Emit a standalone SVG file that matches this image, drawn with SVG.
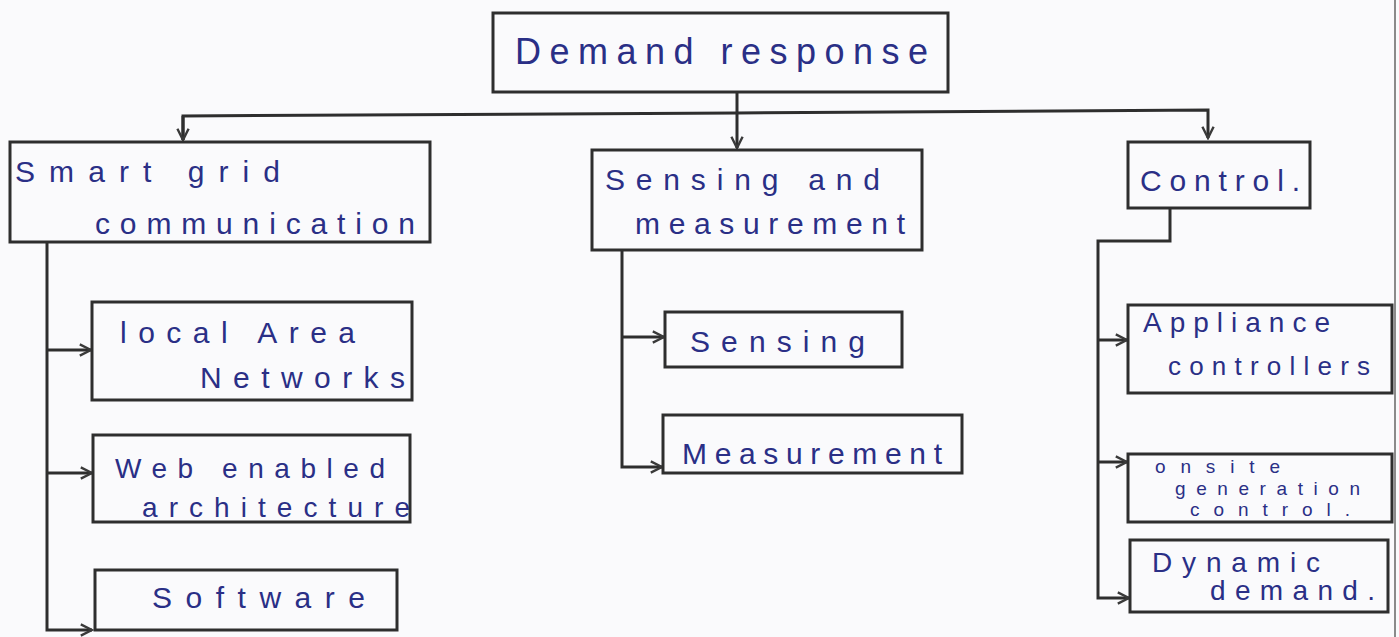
<svg xmlns="http://www.w3.org/2000/svg" width="1399" height="637" viewBox="0 0 1399 637">
<defs>
<style>
.box{fill:none;stroke:#2e2e2e;stroke-width:3}
.ln{fill:none;stroke:#2e2e2e;stroke-width:3}
.t{font-family:"Liberation Sans",Arial,sans-serif;fill:#2a2f86;font-weight:normal}
.edge{stroke:#8a8a8a;stroke-width:2}
</style>
<marker id="arr" viewBox="0 0 20 20" refX="18" refY="10" markerWidth="16" markerHeight="16" markerUnits="userSpaceOnUse" orient="auto">
<path d="M4,3 L18,10 L4,17" fill="none" stroke="#3a3a3a" stroke-width="3"/>
</marker>
</defs>
<rect width="1399" height="637" fill="#fafafc"/>
<line class="edge" x1="1395" y1="0" x2="1395" y2="637"/>

<g id="connectors">
<line class="ln" x1="737" y1="92" x2="737" y2="148" marker-end="url(#arr)"/>
<polyline class="ln" points="183,140 183,116 737,113 1208,110 1208,138" marker-end="url(#arr)"/>
<line class="ln" x1="183" y1="116" x2="183" y2="140" marker-end="url(#arr)"/>
<polyline class="ln" points="47,242 47,630 92,630" marker-end="url(#arr)"/>
<line class="ln" x1="47" y1="350" x2="91" y2="350" marker-end="url(#arr)"/>
<line class="ln" x1="47" y1="473" x2="92" y2="473" marker-end="url(#arr)"/>
<polyline class="ln" points="622,250 622,467 662,467" marker-end="url(#arr)"/>
<line class="ln" x1="622" y1="337" x2="664" y2="337" marker-end="url(#arr)"/>
<polyline class="ln" points="1170,208 1170,241 1098,241 1098,598 1129,598" marker-end="url(#arr)"/>
<line class="ln" x1="1098" y1="340" x2="1127" y2="340" marker-end="url(#arr)"/>
<line class="ln" x1="1098" y1="462" x2="1127" y2="462" marker-end="url(#arr)"/>
</g>

<g id="demand-response">
<rect class="box" x="493" y="13" width="455" height="79"/>
<text class="t" x="515" y="64" font-size="36" textLength="413" lengthAdjust="spacing">Demand response</text>
</g>

<g id="smart-grid">
<rect class="box" x="10" y="142" width="420" height="100"/>
<text class="t" x="15" y="182" font-size="30" textLength="265" lengthAdjust="spacing">Smart grid</text>
<text class="t" x="95" y="234" font-size="30" textLength="320" lengthAdjust="spacing">communication</text>
</g>

<g id="sensing-measurement">
<rect class="box" x="592" y="150" width="330" height="100"/>
<text class="t" x="605" y="190" font-size="30" textLength="275" lengthAdjust="spacing">Sensing and</text>
<text class="t" x="635" y="234" font-size="30" textLength="270" lengthAdjust="spacing">measurement</text>
</g>

<g id="control">
<rect class="box" x="1128" y="142" width="182" height="66"/>
<text class="t" x="1140" y="191" font-size="30" textLength="160" lengthAdjust="spacing">Control.</text>
</g>

<g id="local-area-networks">
<rect class="box" x="92" y="302" width="320" height="98"/>
<text class="t" x="120" y="343" font-size="30" textLength="235" lengthAdjust="spacing">local Area</text>
<text class="t" x="200" y="388" font-size="30" textLength="205" lengthAdjust="spacing">Networks</text>
</g>

<g id="web-enabled">
<rect class="box" x="93" y="435" width="317" height="87"/>
<text class="t" x="115" y="478" font-size="28" textLength="270" lengthAdjust="spacing">Web enabled</text>
<text class="t" x="142" y="517" font-size="28" textLength="268" lengthAdjust="spacing">architecture</text>
</g>

<g id="software">
<rect class="box" x="95" y="570" width="302" height="60"/>
<text class="t" x="152" y="608" font-size="30" textLength="213" lengthAdjust="spacing">Software</text>
</g>

<g id="sensing">
<rect class="box" x="665" y="312" width="237" height="55"/>
<text class="t" x="690" y="352" font-size="30" textLength="175" lengthAdjust="spacing">Sensing</text>
</g>

<g id="measurement">
<rect class="box" x="663" y="415" width="299" height="58"/>
<text class="t" x="682" y="464" font-size="30" textLength="260" lengthAdjust="spacing">Measurement</text>
</g>

<g id="appliance-controllers">
<rect class="box" x="1128" y="305" width="264" height="88"/>
<text class="t" x="1143" y="332" font-size="28" textLength="187" lengthAdjust="spacing">Appliance</text>
<text class="t" x="1168" y="375" font-size="26" textLength="202" lengthAdjust="spacing">controllers</text>
</g>

<g id="onsite-generation-control">
<rect class="box" x="1128" y="454" width="264" height="68"/>
<text class="t" x="1155" y="473" font-size="19" textLength="125" lengthAdjust="spacing">onsite</text>
<text class="t" x="1175" y="495" font-size="19" textLength="185" lengthAdjust="spacing">generation</text>
<text class="t" x="1190" y="516" font-size="19" textLength="160" lengthAdjust="spacing">control.</text>
</g>

<g id="dynamic-demand">
<rect class="box" x="1130" y="540" width="258" height="72"/>
<text class="t" x="1152" y="572" font-size="28" textLength="168" lengthAdjust="spacing">Dynamic</text>
<text class="t" x="1210" y="600" font-size="28" textLength="165" lengthAdjust="spacing">demand.</text>
</g>
</svg>
